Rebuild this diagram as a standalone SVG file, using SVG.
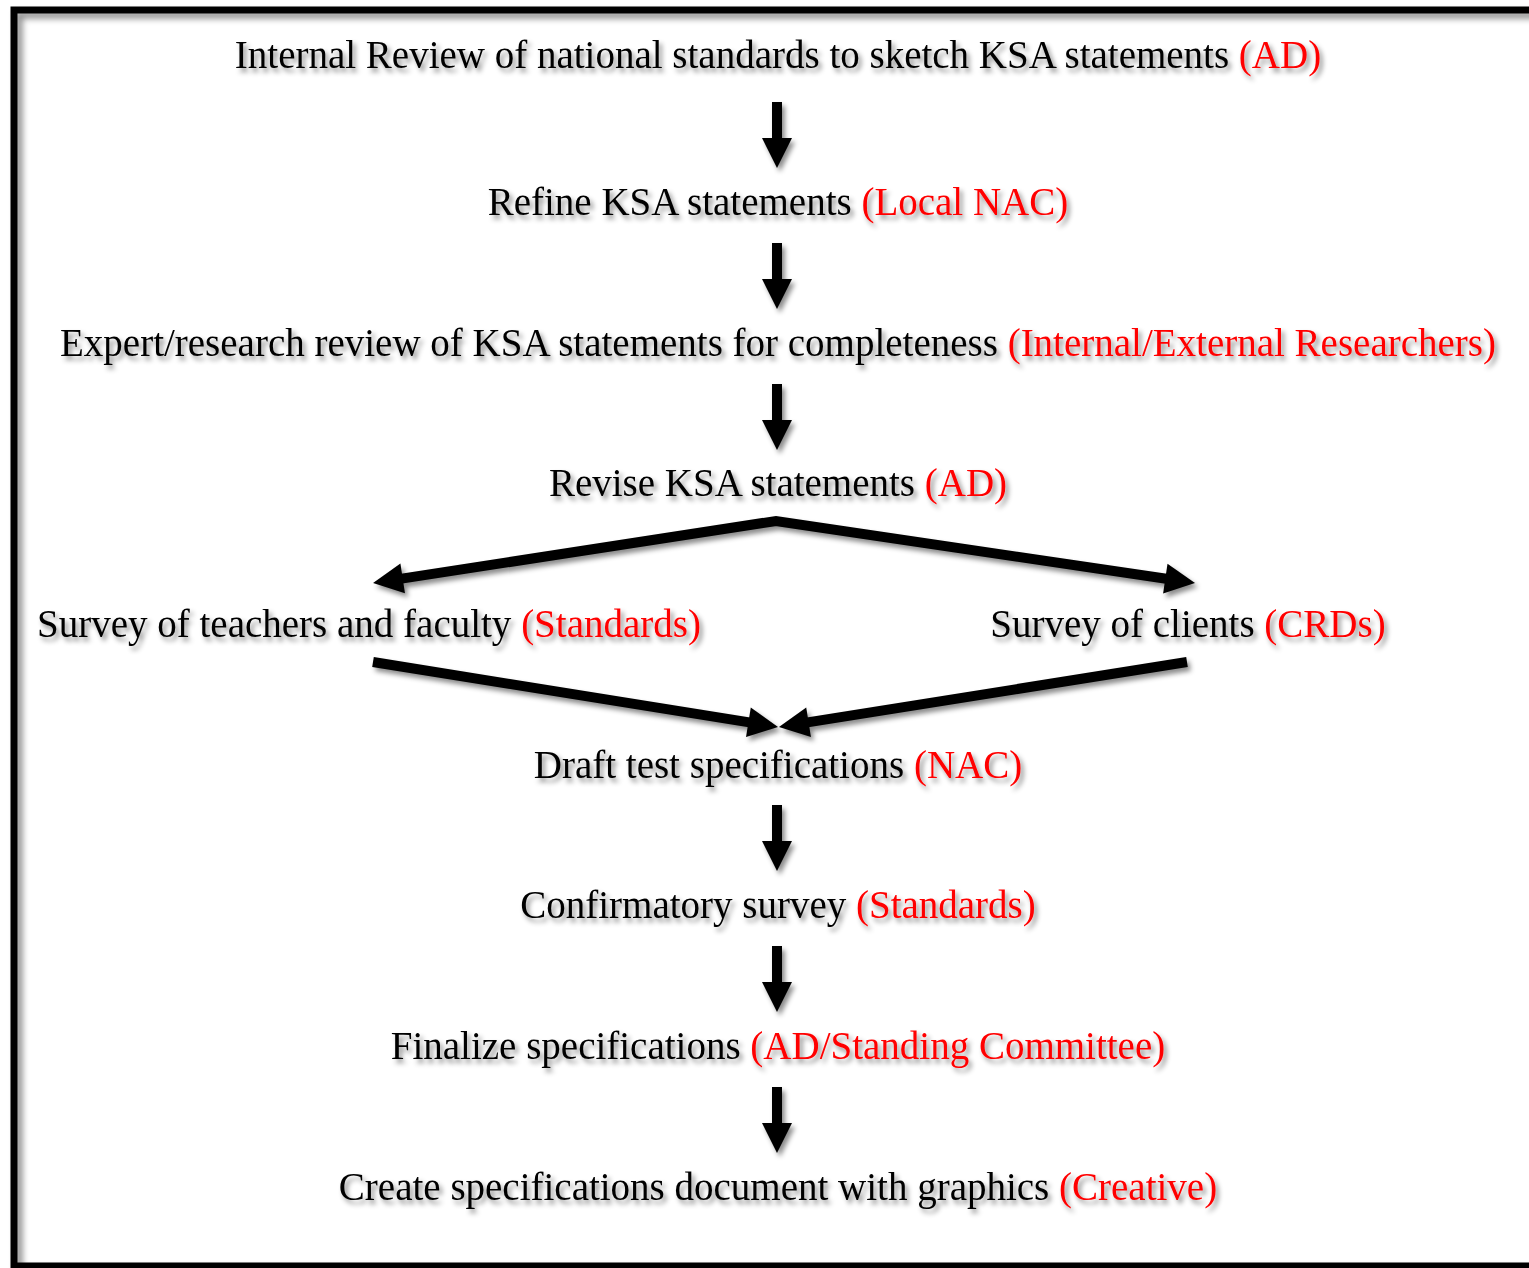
<svg xmlns="http://www.w3.org/2000/svg" width="1529" height="1268" viewBox="0 0 1529 1268">
<defs>
<filter id="sh" x="-10%" y="-20%" width="130%" height="160%">
<feDropShadow dx="3" dy="4" stdDeviation="2.5" flood-color="#000" flood-opacity="0.45"/>
</filter>
<filter id="bsh" x="-5%" y="-5%" width="110%" height="110%">
<feDropShadow dx="5" dy="5" stdDeviation="3" flood-color="#000" flood-opacity="0.45"/>
</filter>
<marker id="ah" markerUnits="userSpaceOnUse" markerWidth="32" markerHeight="32" refX="1" refY="15" orient="auto-start-reverse" overflow="visible">
<path d="M0,0 L30,15 L0,30 Z" fill="#000"/>
</marker>
<style>
text{font-family:"Liberation Serif","Times New Roman",serif;font-size:39px;fill:#000;text-anchor:middle}
.r{fill:#ff0000}
.t{filter:url(#sh)}
.c{fill:none;stroke:#000;stroke-width:10;stroke-linejoin:miter;marker-end:url(#ah)}
.s{marker-start:url(#ah)}
</style>
</defs>
<rect width="1529" height="1268" fill="#fff"/>
<rect x="14" y="10" width="1540" height="1256" fill="none" stroke="#000" stroke-width="7" filter="url(#bsh)"/>
<g id="n1" class="t"><text x="778" y="68">Internal Review of national standards to sketch KSA statements <tspan class="r">(AD)</tspan></text></g>
<g id="n2" class="t"><text x="778" y="215">Refine KSA statements <tspan class="r">(Local NAC)</tspan></text></g>
<g id="n3" class="t"><text x="778" y="356">Expert/research review of KSA statements for completeness <tspan class="r">(Internal/External Researchers)</tspan></text></g>
<g id="n4" class="t"><text x="778" y="496">Revise KSA statements <tspan class="r">(AD)</tspan></text></g>
<g id="n5" class="t"><text x="369" y="637">Survey of teachers and faculty <tspan class="r">(Standards)</tspan></text></g>
<g id="n6" class="t"><text x="1188" y="637">Survey of clients <tspan class="r">(CRDs)</tspan></text></g>
<g id="n7" class="t"><text x="778" y="778">Draft test specifications <tspan class="r">(NAC)</tspan></text></g>
<g id="n8" class="t"><text x="778" y="918">Confirmatory survey <tspan class="r">(Standards)</tspan></text></g>
<g id="n9" class="t"><text x="778" y="1059">Finalize specifications <tspan class="r">(AD/Standing Committee)</tspan></text></g>
<g id="n10" class="t"><text x="778" y="1200">Create specifications document with graphics <tspan class="r">(Creative)</tspan></text></g>
<g id="connectors" filter="url(#sh)">
<line class="c" x1="777" y1="102" x2="777" y2="139"/>
<line class="c" x1="777" y1="243" x2="777" y2="280"/>
<line class="c" x1="777" y1="384" x2="777" y2="421"/>
<path class="c s" d="M401.7,578.6 L776,521 L1166.3,578.8"/>
<line class="c" x1="373" y1="662" x2="749.4" y2="722.4"/>
<line class="c" x1="1187" y1="662" x2="807.6" y2="722.4"/>
<line class="c" x1="777" y1="805" x2="777" y2="842"/>
<line class="c" x1="777" y1="946" x2="777" y2="983"/>
<line class="c" x1="777" y1="1087" x2="777" y2="1124"/>
</g>
</svg>
